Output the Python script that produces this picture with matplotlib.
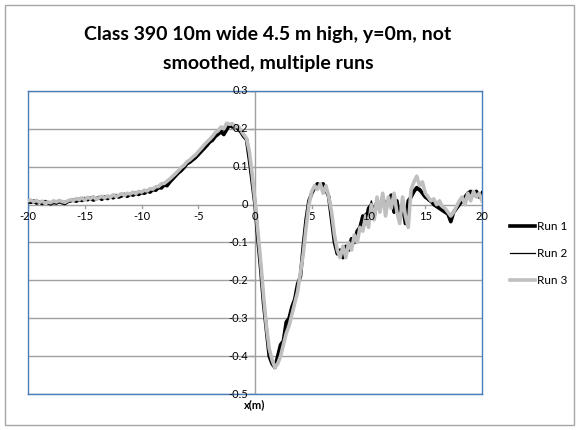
import numpy as np
import matplotlib
matplotlib.use('Agg')
import matplotlib.pyplot as plt
from matplotlib.patches import Rectangle

plt.rcParams['font.family'] = ['Lato', 'DejaVu Sans']

# x positions (m), 0.25 m sampling
x = np.linspace(-20, 20, 161)

run1 = [
    # -20 .. -10
    0.008, 0.006, 0.010, 0.004, 0.007, 0.003, 0.008, 0.005, 0.002, 0.006, 0.004,
    0.009, 0.005, 0.003, 0.008, 0.010, 0.012, 0.009, 0.014, 0.011, 0.016, 0.013,
    0.018, 0.012, 0.015, 0.019, 0.014, 0.020, 0.016, 0.021, 0.018, 0.024, 0.020,
    0.023, 0.027, 0.022, 0.028, 0.025, 0.030, 0.027, 0.032,
    # -9.75 .. -5
    0.030, 0.036, 0.033, 0.040, 0.038, 0.045, 0.044, 0.052, 0.050, 0.060,
    0.068, 0.076, 0.084, 0.090, 0.098, 0.108, 0.112, 0.118, 0.124, 0.132,
    # -4.75 .. 0
    0.140, 0.148, 0.156, 0.165, 0.170, 0.180, 0.186, 0.192, 0.185, 0.198,
    0.210, 0.205, 0.208, 0.200, 0.192, 0.180, 0.172, 0.120, 0.060, 0.000,
    # 0.25 .. 5
    -0.09, -0.17, -0.26, -0.33, -0.40, -0.42, -0.43, -0.40, -0.37, -0.36,
    -0.31, -0.30, -0.27, -0.25, -0.21, -0.19, -0.11, -0.04, 0.01, 0.03,
    # 5.25 .. 10
    0.045, 0.055, 0.050, 0.055, 0.040, 0.020, -0.04, -0.10, -0.13, -0.12,
    -0.14, -0.11, -0.12, -0.09, -0.10, -0.07, -0.06, -0.03, -0.05, -0.01,
    # 10.25 .. 15
    0.000, -0.03, 0.010, -0.01, 0.020, -0.01, 0.010, 0.025, -0.02, 0.010,
    -0.04, 0.000, -0.05, 0.010, 0.020, 0.035, 0.045, 0.040, 0.030, 0.020,
    # 15.25 .. 20
    0.015, 0.010, 0.000, -0.005, -0.010, -0.015, -0.020, -0.025, -0.045, -0.020,
    -0.010, 0.000, 0.010, 0.020, 0.030, 0.035, 0.025, 0.035, 0.020, 0.030,
]

run2 = [
    0.006, 0.009, 0.005, 0.008, 0.004, 0.007, 0.006, 0.003, 0.005, 0.008, 0.006,
    0.004, 0.007, 0.009, 0.006, 0.011, 0.010, 0.013, 0.010, 0.015, 0.012, 0.017,
    0.014, 0.016, 0.013, 0.018, 0.016, 0.019, 0.017, 0.022, 0.019, 0.022, 0.021,
    0.025, 0.023, 0.026, 0.024, 0.029, 0.027, 0.031, 0.030,
    0.033, 0.034, 0.037, 0.039, 0.042, 0.043, 0.048, 0.050, 0.055, 0.061,
    0.070, 0.078, 0.086, 0.093, 0.101, 0.109, 0.114, 0.121, 0.127, 0.135,
    0.143, 0.150, 0.159, 0.166, 0.174, 0.182, 0.190, 0.196, 0.195, 0.205,
    0.212, 0.208, 0.206, 0.202, 0.194, 0.182, 0.170, 0.125, 0.065, 0.005,
    -0.08, -0.16, -0.25, -0.32, -0.39, -0.42, -0.42, -0.41, -0.38, -0.36,
    -0.32, -0.31, -0.28, -0.26, -0.22, -0.19, -0.12, -0.05, 0.00, 0.03,
    0.040, 0.050, 0.055, 0.050, 0.040, 0.015, -0.05, -0.10, -0.12, -0.13,
    -0.13, -0.12, -0.11, -0.10, -0.09, -0.08, -0.05, -0.04, -0.04, -0.02,
    0.010, -0.02, 0.000, 0.000, 0.010, -0.02, 0.020, 0.010, -0.01, 0.000,
    -0.03, 0.010, -0.04, 0.000, 0.030, 0.030, 0.040, 0.035, 0.030, 0.020,
    0.010, 0.005, 0.000, 0.000, -0.010, -0.010, -0.020, -0.020, -0.035, -0.025,
    -0.010, 0.000, 0.005, 0.020, 0.025, 0.030, 0.030, 0.030, 0.025, 0.035,
]

run3 = [
    0.010, 0.012, 0.008, 0.011, 0.006, 0.009, 0.004, 0.007, 0.005, 0.010, 0.007,
    0.011, 0.008, 0.006, 0.010, 0.013, 0.011, 0.016, 0.013, 0.018, 0.012, 0.019,
    0.016, 0.021, 0.014, 0.018, 0.022, 0.017, 0.023, 0.019, 0.026, 0.021, 0.025,
    0.029, 0.024, 0.030, 0.028, 0.033, 0.029, 0.035, 0.033,
    0.038, 0.036, 0.042, 0.041, 0.047, 0.048, 0.055, 0.056, 0.062, 0.068,
    0.075, 0.082, 0.090, 0.098, 0.104, 0.113, 0.118, 0.125, 0.131, 0.140,
    0.148, 0.157, 0.165, 0.172, 0.180, 0.190, 0.195, 0.205, 0.200, 0.215,
    0.212, 0.214, 0.205, 0.208, 0.196, 0.185, 0.175, 0.140, 0.080, 0.010,
    -0.07, -0.15, -0.24, -0.32, -0.38, -0.41, -0.43, -0.42, -0.40, -0.37,
    -0.34, -0.32, -0.29, -0.26, -0.23, -0.18, -0.13, -0.06, 0.00, 0.035,
    0.050, 0.040, 0.055, 0.030, 0.050, 0.020, -0.02, -0.08, -0.12, -0.14,
    -0.11, -0.14, -0.10, -0.12, -0.08, -0.10, -0.06, -0.07, -0.03, -0.06,
    0.000, -0.04, 0.020, -0.02, 0.030, -0.03, 0.020, -0.01, 0.030, -0.02,
    -0.05, 0.020, -0.03, -0.06, 0.040, 0.060, 0.075, 0.050, 0.060, 0.030,
    0.020, 0.010, 0.015, 0.000, 0.010, -0.005, -0.010, -0.020, -0.030, -0.020,
    -0.005, 0.010, 0.020, 0.000, 0.030, 0.010, 0.035, 0.020, 0.030, 0.010,
]

x_ticks = [-20, -15, -10, -5, 0, 5, 10, 15, 20]
x_tick_labels = ['-20', '-15', '-10', '-5', '0', '5', '10', '15', '20']
y_ticks = [-0.5, -0.4, -0.3, -0.2, -0.1, 0, 0.1, 0.2, 0.3]
y_tick_labels = ['-0.5', '-0.4', '-0.3', '-0.2', '-0.1', '0', '0.1', '0.2', '0.3']

fig = plt.figure(figsize=(5.79, 4.30), dpi=100)
fig.patches.append(Rectangle((0.009, 0.012), 0.982, 0.976, transform=fig.transFigure,
                             fill=False, edgecolor='#a6a6a6', linewidth=1))
ax = fig.add_axes([0.0484, 0.0837, 0.7841, 0.7047])

ax.set_xlim(-20, 20)
ax.set_ylim(-0.5, 0.3)

# gridlines and axis lines through the origin
for yv in y_ticks:
    ax.axhline(yv, color='#a0a0a0', linewidth=1, zorder=1)
ax.axvline(0, color='#a0a0a0', linewidth=1, zorder=1)

ax.plot(x, run1, color='black', linewidth=2.6, label='Run 1', zorder=3)
ax.plot(x, run2, color='black', linewidth=0.9, label='Run 2', zorder=4)
ax.plot(x, run3, color='#bfbfbf', linewidth=2.6, label='Run 3', zorder=5)

ax.set_xticks([])
ax.set_yticks([])
for s in ax.spines.values():
    s.set_color('#4a7ebb')
    s.set_linewidth(1)

# tick marks and labels on the axes crossing at the origin
for xv, lab in zip(x_ticks, x_tick_labels):
    ax.plot([xv, xv], [0, -0.008], color='#a0a0a0', linewidth=1, zorder=1)
    ax.text(xv, -0.017, lab, ha='center', va='top', fontsize=8, zorder=6)
for yv, lab in zip(y_ticks, y_tick_labels):
    ax.plot([0, -0.4], [yv, yv], color='#a0a0a0', linewidth=1, zorder=1)
    ax.text(-0.6, yv, lab, ha='right', va='center', fontsize=8, zorder=6)

ax.set_xlabel('x(m)', fontsize=8, fontweight='bold', labelpad=4)

fig.text(0.463, 0.886, 'Class 390 10m wide 4.5 m high, y=0m, not\nsmoothed, multiple runs',
         ha='center', va='center', fontsize=14, fontweight='bold', linespacing=1.9)

ax.legend(loc='center left', bbox_to_anchor=(0.881, 0.41), bbox_transform=fig.transFigure,
          frameon=False, fontsize=8.5, handlelength=2.1, labelspacing=1.35,
          handletextpad=0.2, borderpad=0, borderaxespad=0)

fig.savefig('out.png', dpi=100)
